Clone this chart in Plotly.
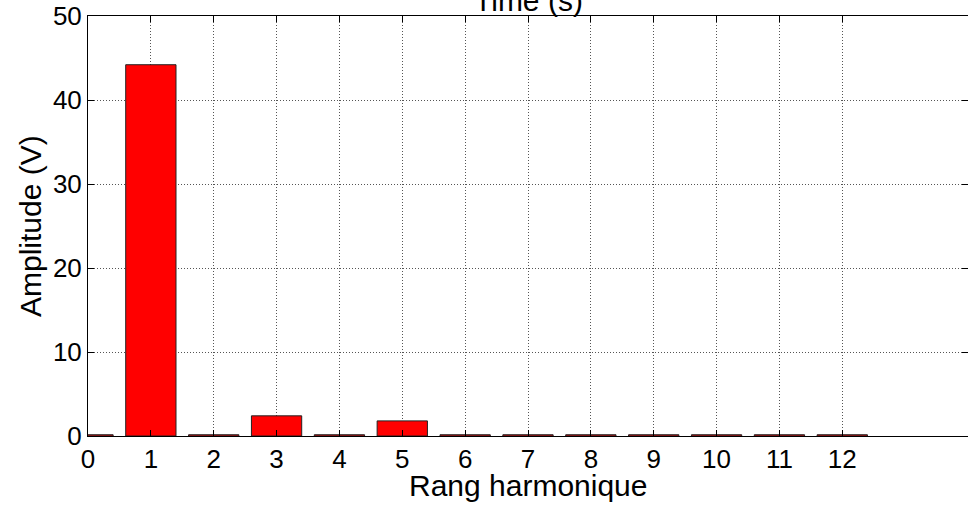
import plotly.graph_objects as go

harmonics = list(range(0, 13))
amplitudes = [0.15, 44.2, 0.15, 2.4, 0.15, 1.8, 0.15, 0.15, 0.15, 0.15, 0.15, 0.15, 0.15]
x_ticks = list(range(0, 13))
y_ticks = [0, 10, 20, 30, 40, 50]

FONT = "Liberation Sans, Arial, sans-serif"

fig = go.Figure()
fig.add_trace(go.Bar(
    x=harmonics, y=amplitudes, width=0.8,
    marker=dict(color="#ff0000", line=dict(color="#222222", width=1)),
))

fig.update_layout(
    width=968, height=505,
    margin=dict(l=88, r=0, t=16, b=69),
    paper_bgcolor="white", plot_bgcolor="white",
    showlegend=False,
    font=dict(family=FONT, color="black", size=25),
    xaxis=dict(
        range=[0, 14], tickvals=x_ticks, ticktext=[str(v) for v in x_ticks],
        showgrid=True, gridcolor="#555555", griddash="1px,2px", gridwidth=1,
        showline=True, linecolor="black", linewidth=1, mirror="ticks",
        ticks="inside", ticklen=6, tickcolor="black", automargin=False,
        tickfont=dict(size=26), zeroline=False,
    ),
    yaxis=dict(
        range=[0, 50], tickvals=y_ticks,
        showgrid=True, gridcolor="#555555", griddash="1px,2px", gridwidth=1,
        showline=True, linecolor="black", linewidth=1, mirror="ticks",
        ticks="inside", ticklen=6, tickcolor="black", automargin=False,
        tickfont=dict(size=26), zeroline=False,
    ),
    annotations=[
        dict(text="Time (s)", xref="paper", yref="paper", x=0.5, y=1,
             yanchor="bottom", xanchor="center", yshift=-3, showarrow=False,
             font=dict(size=30)),
        dict(text="Rang harmonique", xref="paper", yref="paper", x=0.5, y=0,
             yanchor="middle", xanchor="center", yshift=-49, showarrow=False,
             font=dict(size=30)),
        dict(text="Amplitude (V)", xref="paper", yref="paper", x=0, y=0.5,
             xanchor="center", yanchor="middle", xshift=-58, textangle=-90,
             showarrow=False, font=dict(size=30)),
    ],
)

fig.write_html(
    "out.html",
    config={"displayModeBar": False},
    post_script="document.body.style.margin='0';document.body.style.overflow='hidden';",
)
